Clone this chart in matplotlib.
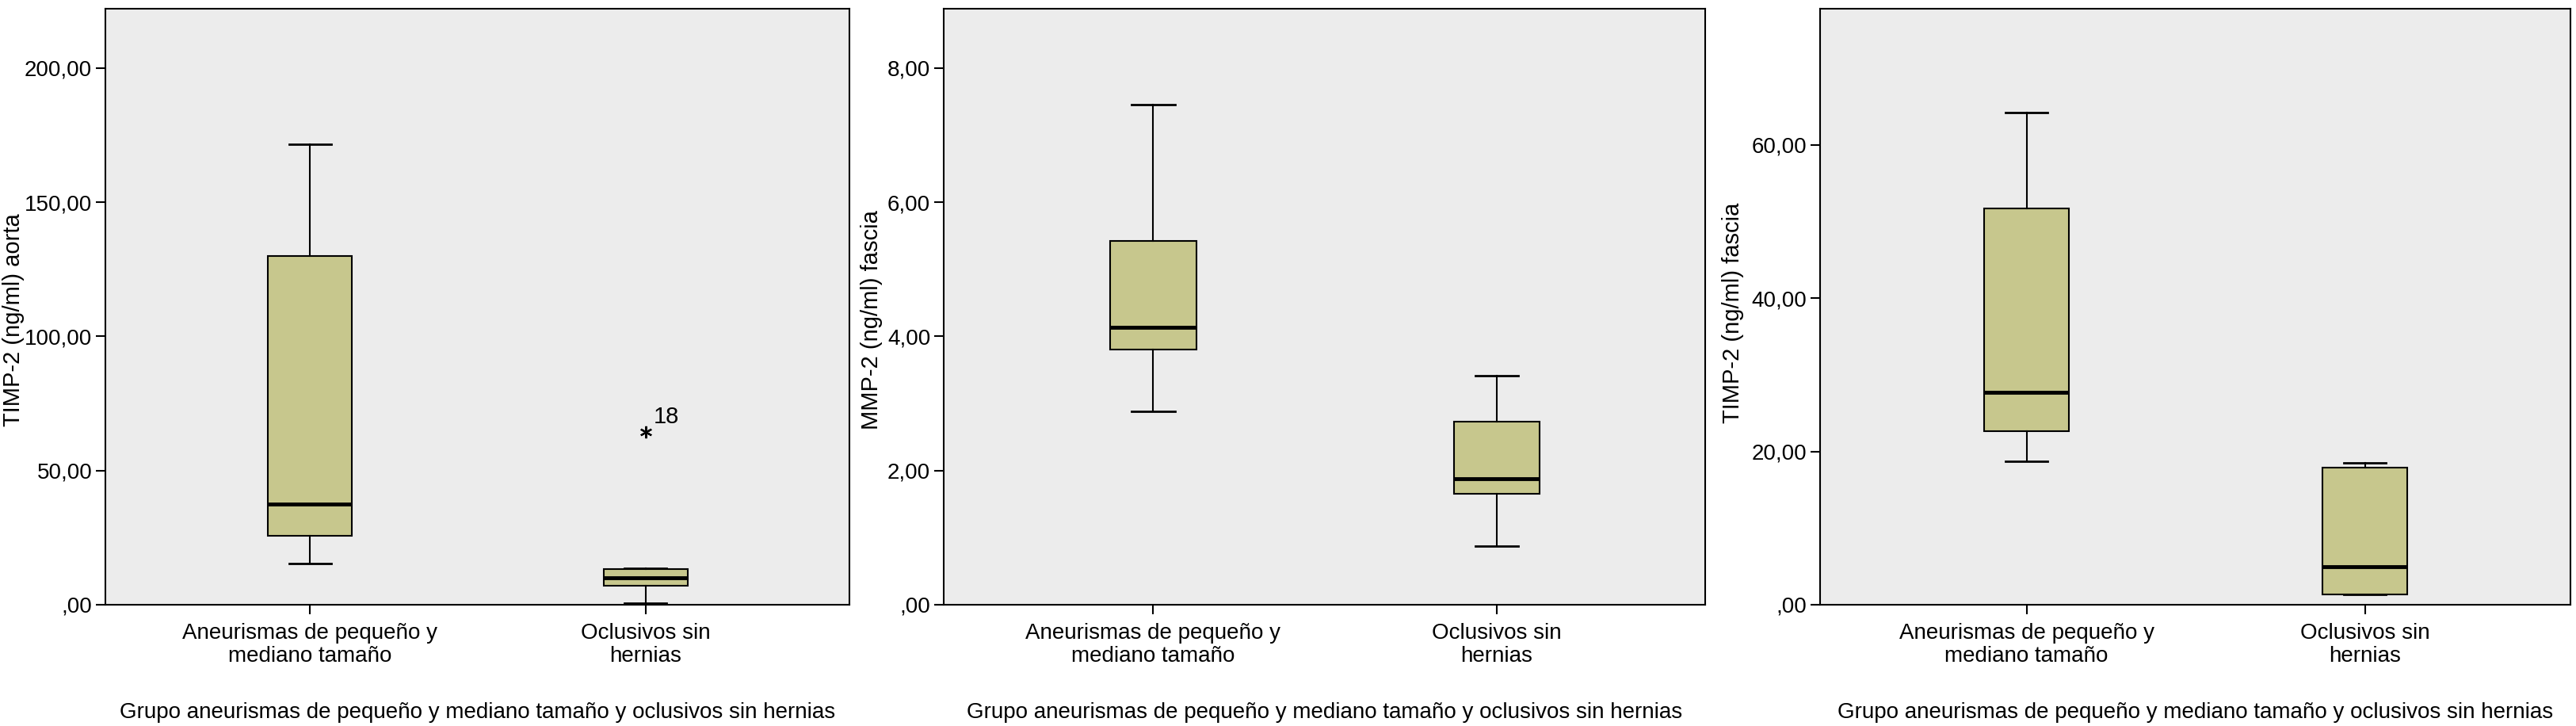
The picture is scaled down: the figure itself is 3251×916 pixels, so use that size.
import matplotlib
matplotlib.use("Agg")
import matplotlib.pyplot as plt
from matplotlib import font_manager
from matplotlib.ticker import FixedLocator, FuncFormatter

# --- Data -----------------------------------------------------------------
groups = ["Aneurismas de pequeño y\nmediano tamaño", "Oclusivos sin\nhernias"]
x_title = "Grupo aneurismas de pequeño y mediano tamaño y oclusivos sin hernias"

# TIMP-2 (ng/ml) aorta
aorta_whislo = [15.5, 0.5]
aorta_q1 = [25.7, 7.2]
aorta_med = [37.5, 10.0]
aorta_q3 = [130.0, 13.3]
aorta_whishi = [171.5, 13.5]
aorta_outliers = [[], [64.3]]
aorta_outlier_ids = [[], ["18"]]

# MMP-2 (ng/ml) fascia
mmp_whislo = [2.88, 0.88]
mmp_q1 = [3.81, 1.65]
mmp_med = [4.13, 1.88]
mmp_q3 = [5.42, 2.73]
mmp_whishi = [7.46, 3.42]

# TIMP-2 (ng/ml) fascia
fascia_whislo = [18.7, 1.3]
fascia_q1 = [22.6, 1.38]
fascia_med = [27.7, 4.95]
fascia_q3 = [51.7, 17.9]
fascia_whishi = [64.2, 18.5]

# --- Style ------------------------------------------------------------------
W, H = 3251, 916
BG = "#ECECEC"
BOX = "#C7C78D"

installed = {f.name for f in font_manager.fontManager.ttflist}
if "Liberation Sans Narrow" in installed:
    NARROW, TICK_SIZE = "Liberation Sans Narrow", 24
else:
    NARROW, TICK_SIZE = "Liberation Sans", 20
REGULAR = "Liberation Sans"


def spss_fmt(v, pos=None):
    s = f"{v:.2f}".replace(".", ",")
    return s[1:] if s.startswith("0,") else s


def make_stats(lo, q1, med, q3, hi, fliers=None):
    fliers = fliers or [[] for _ in lo]
    return [dict(whislo=a, q1=b, med=c, q3=d, whishi=e, fliers=f)
            for a, b, c, d, e, f in zip(lo, q1, med, q3, hi, fliers)]


panels = [
    dict(px=(133, 1072), ylabel="TIMP-2 (ng/ml) aorta", ylim=222.3,
         ticks=[0, 50, 100, 150, 200], ylab_x=-0.124, ylab_y=0.478,
         stats=make_stats(aorta_whislo, aorta_q1, aorta_med, aorta_q3,
                          aorta_whishi, aorta_outliers)),
    dict(px=(1191, 2152), ylabel="MMP-2 (ng/ml) fascia", ylim=8.89,
         ticks=[0, 2, 4, 6, 8], ylab_x=-0.095, ylab_y=0.478,
         stats=make_stats(mmp_whislo, mmp_q1, mmp_med, mmp_q3, mmp_whishi)),
    dict(px=(2297, 3244), ylabel="TIMP-2 (ng/ml) fascia", ylim=77.8,
         ticks=[0, 20, 40, 60], ylab_x=-0.116, ylab_y=0.489,
         stats=make_stats(fascia_whislo, fascia_q1, fascia_med, fascia_q3,
                          fascia_whishi)),
]

fig = plt.figure(figsize=(W / 100, H / 100), dpi=100, facecolor="white")
top_px, bottom_px = 10.5, 763

for i, p in enumerate(panels):
    left, right = p["px"]
    ax = fig.add_axes([left / W, 1 - bottom_px / H, (right - left) / W,
                       (bottom_px - top_px) / H])
    ax.set_facecolor(BG)
    ax.bxp(p["stats"], positions=[1, 2], widths=0.25, capwidths=0.125,
           patch_artist=True,
           boxprops=dict(facecolor=BOX, edgecolor="black", linewidth=1.5),
           medianprops=dict(color="black", linewidth=3.5),
           whiskerprops=dict(color="black", linewidth=1.5),
           capprops=dict(color="black", linewidth=2.0),
           flierprops=dict(marker=(6, 2, 0), markersize=11,
                           markeredgecolor="black", markeredgewidth=1.6,
                           linestyle="none"))
    if i == 0:
        for xpos, vals, ids in zip([1, 2], aorta_outliers, aorta_outlier_ids):
            for v, lab in zip(vals, ids):
                ax.annotate(lab, (xpos, v), xytext=(7, 4),
                            textcoords="offset points", ha="left",
                            va="bottom", fontsize=21, family=NARROW)

    ax.set_xlim(0.39, 2.607)
    ax.set_ylim(0, p["ylim"])
    ax.yaxis.set_major_locator(FixedLocator(p["ticks"]))
    ax.yaxis.set_major_formatter(FuncFormatter(spss_fmt))
    ax.set_xticks([1, 2])
    ax.set_xticklabels(groups, linespacing=1.16, multialignment="center")

    for s in ax.spines.values():
        s.set_linewidth(1.5)
    ax.tick_params(direction="out", length=8.6, width=1.5,
                   labelsize=TICK_SIZE)
    ax.tick_params(axis="y", pad=3.5)
    ax.tick_params(axis="x", pad=8)
    for lab in ax.get_xticklabels() + ax.get_yticklabels():
        lab.set_family(NARROW)

    ax.set_ylabel(p["ylabel"], fontsize=21, family=REGULAR)
    ax.yaxis.label.set_va("center")
    ax.yaxis.set_label_coords(p["ylab_x"], p["ylab_y"])

    ax.set_xlabel(x_title, fontsize=TICK_SIZE, family=NARROW)
    ax.xaxis.label.set_va("top")
    ax.xaxis.set_label_coords(0.5, -0.163)

fig.savefig("out.png", dpi=100, facecolor="white")
